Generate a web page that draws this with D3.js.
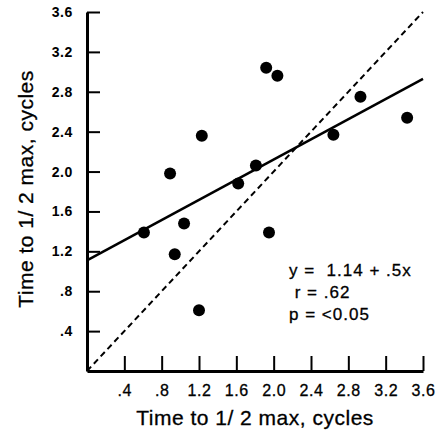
<!DOCTYPE html>
<html>
<head>
<meta charset="utf-8">
<script src="https://cdn.jsdelivr.net/npm/d3@7"></script>
<style>
  html, body { margin: 0; padding: 0; background: #fff; }
  svg { display: block; font-family: "Liberation Sans", Arial, Helvetica, sans-serif; }
</style>
</head>
<body>
<div id="chart"></div>
<script>
// Time to 1/2 max scatter with regression and identity lines

const pointsX = [0.61, 0.89, 0.94, 1.04, 1.20, 1.23, 1.62, 1.81, 1.92, 2.04, 1.95, 2.64, 2.93, 3.43];
const pointsY = [1.39, 1.98, 1.17, 1.48, 0.61, 2.36, 1.88, 2.06, 3.04, 2.96, 1.39, 2.37, 2.75, 2.54];

const regLine = [[0, 1.11], [3.6, 2.93]];
const identityLine = [[0, 0], [3.6, 3.6]];

const tickValues = [0.4, 0.8, 1.2, 1.6, 2.0, 2.4, 2.8, 3.2, 3.6];
const tickLabels = [".4", ".8", "1.2", "1.6", "2.0", "2.4", "2.8", "3.2", "3.6"];

const statLines = ["y =  1.14 + .5x", " r = .62", "p = <0.05"];
const axisTitle = "Time to 1/ 2 max, cycles";

const width = 436, height = 434;

const svg = d3.select("#chart")
  .append("svg")
  .attr("width", width)
  .attr("height", height);

const x = d3.scaleLinear().domain([0, 3.6]).range([87, 423]);
const y = d3.scaleLinear().domain([0, 3.6]).range([371, 12]);

const fmt = v => tickLabels[tickValues.indexOf(v)];

// y axis, ticks pointing inward
const yAxis = svg.append("g")
  .attr("transform", `translate(${x(0)},0)`)
  .call(d3.axisLeft(y).tickValues(tickValues).tickFormat(fmt)
    .tickSizeInner(-13).tickSizeOuter(0).tickPadding(14));

yAxis.select(".domain").attr("stroke-width", 3);
yAxis.selectAll(".tick line").attr("stroke-width", 2);
yAxis.selectAll(".tick text")
  .attr("font-size", "14px")
  .attr("font-weight", "bold")
  .attr("letter-spacing", "0.6px")
  .attr("fill", "#000")
  .attr("font-family", "Liberation Sans, Arial, sans-serif");

// x axis, ticks pointing inward
const xAxis = svg.append("g")
  .attr("transform", `translate(0,${y(0)})`)
  .call(d3.axisBottom(x).tickValues(tickValues).tickFormat(fmt)
    .tickSizeInner(-15).tickSizeOuter(0).tickPadding(14));

xAxis.select(".domain").attr("stroke-width", 3);
xAxis.selectAll(".tick line").attr("stroke-width", 2);
xAxis.selectAll(".tick text")
  .attr("font-size", "16px")
  .attr("letter-spacing", "0.6px")
  .attr("fill", "#000")
  .attr("stroke", "#000")
  .attr("stroke-width", 0.3)
  .attr("font-family", "Liberation Sans, Arial, sans-serif");

const line = d3.line().x(d => x(d[0])).y(d => y(d[1]));

svg.append("path")
  .datum(identityLine)
  .attr("d", line)
  .attr("fill", "none")
  .attr("stroke", "#000")
  .attr("stroke-width", 2)
  .attr("stroke-dasharray", "6,4");

svg.append("path")
  .datum(regLine)
  .attr("d", line)
  .attr("fill", "none")
  .attr("stroke", "#000")
  .attr("stroke-width", 2.5);

svg.selectAll(".pt")
  .data(pointsX.map((v, i) => [v, pointsY[i]]))
  .join("circle")
  .attr("class", "pt")
  .attr("cx", d => x(d[0]))
  .attr("cy", d => y(d[1]))
  .attr("r", 6)
  .attr("fill", "#000");

svg.selectAll(".stat")
  .data(statLines)
  .join("text")
  .attr("class", "stat")
  .attr("x", 289)
  .attr("y", (d, i) => 276 + i * 22)
  .attr("font-size", "17px")
  .attr("letter-spacing", "1px")
  .attr("fill", "#000")
  .attr("stroke", "#000")
  .attr("stroke-width", 0.3)
  .style("white-space", "pre")
  .attr("xml:space", "preserve")
  .text(d => d);

svg.append("text")
  .attr("x", 255)
  .attr("y", 425)
  .attr("text-anchor", "middle")
  .attr("font-size", "21px")
  .attr("letter-spacing", "0.5px")
  .attr("fill", "#000")
  .attr("stroke", "#000")
  .attr("stroke-width", 0.3)
  .text(axisTitle);

svg.append("text")
  .attr("transform", "translate(33,189) rotate(-90)")
  .attr("text-anchor", "middle")
  .attr("font-size", "21px")
  .attr("letter-spacing", "0.5px")
  .attr("fill", "#000")
  .attr("stroke", "#000")
  .attr("stroke-width", 0.3)
  .text(axisTitle);
</script>
</body>
</html>
